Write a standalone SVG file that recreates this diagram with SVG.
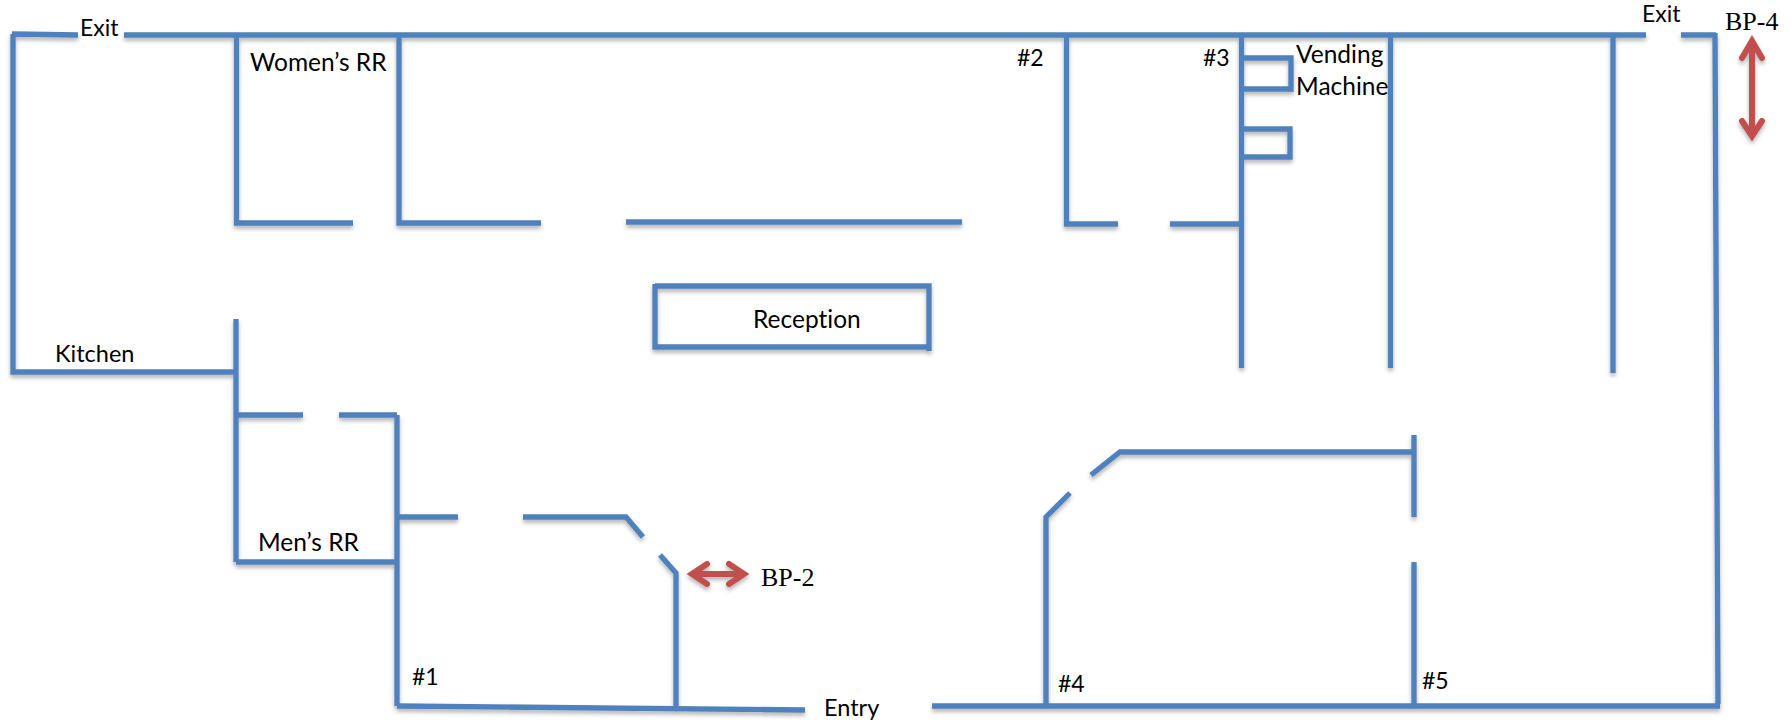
<svg xmlns="http://www.w3.org/2000/svg" width="1791" height="723" viewBox="0 0 1791 723">
<style>
.w{fill:none;stroke:#4f81bd;stroke-width:5.300;stroke-linejoin:miter}
.t{font-family:"Lato","Liberation Sans",sans-serif;font-size:23px;fill:#000;font-variant-ligatures:none}
.m{font-size:23.500px}
.b{font-size:24.500px}
.s{font-family:"Liberation Serif",serif;font-size:26px;fill:#000}
.a{fill:none;stroke:#c0504d;stroke-width:6;stroke-linejoin:miter;stroke-linecap:round}
</style>
<defs><filter id="sh" x="-5%" y="-5%" width="110%" height="110%"><feDropShadow dx="0" dy="3" stdDeviation="2" flood-color="#000" flood-opacity=".3"/></filter></defs>
<rect width="1791" height="723" fill="#fff"/>
<g id="walls" filter="url(#sh)">
<path class="w" d="M78 35 12 34M13 34V372H236M124 35H1646M1681 35H1716M1715 33 1718 704"/>
<path class="w" d="M236.500 35V223H353M399 35V223H541M626 222H962M1066.500 35V224H1118M1170 224H1242"/>
<path class="w" d="M1241.500 35V368M1242 58H1291V89H1242M1242 129H1290V157H1242M1390.500 35V368M1613 35V373"/>
<path class="w" d="M655 286H929V351M929 347H655V284M236 319V562M236 415H303M339 415H397M397 415V706M397 562H236"/>
<path class="w" d="M397 517H458M523 517H626L643 537M660 555 676 573V706M397 706 805 710M932 706H1720"/>
<path class="w" d="M1046 706V517L1070 493M1091 475 1120 452H1415M1414 435V517M1414 562V706"/>
</g>
<g id="arrows" filter="url(#sh)">
<path class="a" d="M1752 41V136M1742 58 1752 41 1762 58M1742 121 1752 136 1762 121"/>
<path class="a" d="M692 574H744M707 564 692 574 707 584M729 564 744 574 729 584"/>
</g>
<g id="labels">
<text class="t" x="80" y="36">Exit</text>
<text class="t b" x="250" y="71">Women’s RR</text>
<text class="t" x="1017" y="66">#2</text>
<text class="t" x="1203" y="66">#3</text>
<text class="t b" x="1296" y="63">Vending</text>
<text class="t b" x="1296" y="95">Machine</text>
<text class="t" x="1642" y="22">Exit</text>
<text class="s" x="1725" y="30">BP-4</text>
<text class="t b" x="753" y="328">Reception</text>
<text class="t m" x="55" y="362">Kitchen</text>
<text class="t b" x="258" y="551">Men’s RR</text>
<text class="s" x="761" y="586">BP-2</text>
<text class="t" x="412" y="685">#1</text>
<text class="t m" x="824" y="716">Entry</text>
<text class="t" x="1058" y="692">#4</text>
<text class="t" x="1422" y="689">#5</text>
</g>
</svg>
